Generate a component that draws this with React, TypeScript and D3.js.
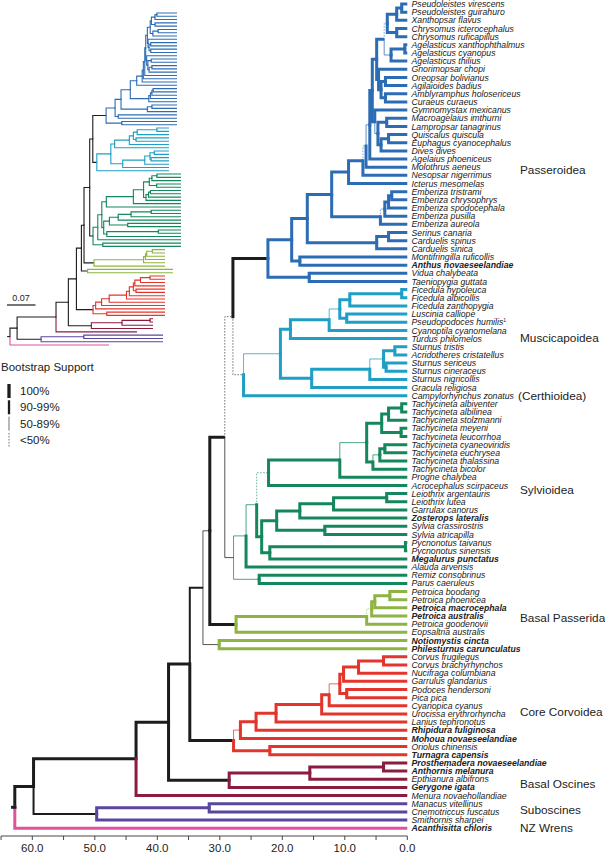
import React from 'react';
import * as d3 from 'd3';

const taxa: string[] = [
  'Pseudoleistes virescens','Pseudoleistes guirahuro','Xanthopsar flavus','Chrysomus icterocephalus','Chrysomus ruficapillus',
  'Agelasticus xanthophthalmus','Agelasticus cyanopus','Agelasticus thilius','Gnorimopsar chopi','Oreopsar bolivianus',
  'Agilaioides badius','Amblyramphus holosericeus','Curaeus curaeus','Gymnomystax mexicanus','Macroagelaius imthurni',
  'Lampropsar tanagrinus','Quiscalus quiscula','Euphagus cyanocephalus','Dives dives','Agelaius phoeniceus',
  'Molothrus aeneus','Nesopsar nigerrimus','Icterus mesomelas','Emberiza tristrami','Emberiza chrysophrys',
  'Emberiza spodocephala','Emberiza pusilla','Emberiza aureola','Serinus canaria','Carduelis spinus',
  'Carduelis sinica','Montifringilla ruficollis','Anthus novaeseelandiae','Vidua chalybeata','Taeniopygia guttata',
  'Ficedula hypoleuca','Ficedula albicollis','Ficedula zanthopygia','Luscinia calliope','Pseudopodoces humilis',
  'Cyanoptila cyanomelana','Turdus philomelos','Sturnus tristis','Acridotheres cristatellus','Sturnus sericeus',
  'Sturnus cineraceus','Sturnus nigricollis','Gracula religiosa','Campylorhynchus zonatus','Tachycineta albiventer',
  'Tachycineta albilinea','Tachycineta stolzmanni','Tachycineta meyeni','Tachycineta leucorrhoa','Tachycineta cyaneoviridis',
  'Tachycineta euchrysea','Tachycineta thalassina','Tachycineta bicolor','Progne chalybea','Acrocephalus scirpaceus',
  'Leiothrix argentauris','Leiothrix lutea','Garrulax canorus','Zosterops lateralis','Sylvia crassirostris',
  'Sylvia atricapilla','Pycnonotus taivanus','Pycnonotus sinensis','Megalurus punctatus','Alauda arvensis',
  'Remiz consobrinus','Parus caeruleus','Petroica boodang','Petroica phoenicea','Petroica macrocephala',
  'Petroica australis','Petroica goodenovii','Eopsaltria australis','Notiomystis cincta','Philesturnus carunculatus',
  'Corvus frugilegus','Corvus brachyrhynchos','Nucifraga columbiana','Garrulus glandarius','Podoces hendersoni',
  'Pica pica','Cyanopica cyanus','Urocissa erythrorhyncha','Lanius tephronotus','Rhipidura fuliginosa',
  'Mohoua novaeseelandiae','Oriolus chinensis','Turnagra capensis','Prosthemadera novaeseelandiae','Anthornis melanura',
  'Epthianura albifrons','Gerygone igata','Menura novaehollandiae','Manacus vitellinus','Cnemotriccus fuscatus',
  'Smithornis sharpei','Acanthisitta chloris'
];

const boldTaxa: string[] = [
  'Anthus novaeseelandiae','Zosterops lateralis','Megalurus punctatus','Petroica macrocephala','Petroica australis',
  'Notiomystis cincta','Philesturnus carunculatus','Rhipidura fuliginosa','Mohoua novaeseelandiae','Turnagra capensis',
  'Prosthemadera novaeseelandiae','Anthornis melanura','Gerygone igata','Acanthisitta chloris'
];

const footnoteTaxa: string[] = ['Pseudopodoces humilis'];

// internal nodes: [id, child, child, age (Ma), bootstrap class A=100 B=90-99 C=50-89 D=<50]
type Ref = number | string;
const nodes: [string, Ref, Ref, number, string][] = [
  ['p1', 0, 1, 0.9, 'A'], ['p2', 'p1', 2, 1.7, 'A'], ['p3', 3, 4, 1.7, 'A'], ['p4', 'p2', 'p3', 3.2, 'D'],
  ['a1', 5, 6, 0.4, 'A'], ['a2', 'a1', 7, 2.6, 'C'], ['p5', 'p4', 'a2', 3.7, 'A'],
  ['b1', 9, 10, 3.5, 'A'], ['b2', 11, 12, 3.5, 'A'], ['b3', 'b1', 'b2', 4.2, 'A'], ['b4', 8, 'b3', 4.6, 'A'],
  ['p6', 'p5', 'b4', 4.9, 'A'],
  ['g1', 14, 15, 3.3, 'A'], ['g2', 16, 17, 3.0, 'A'], ['g3', 'g2', 18, 4.2, 'A'], ['g4', 'g1', 'g3', 4.7, 'C'],
  ['g5', 13, 'g4', 5.2, 'A'], ['h1', 'p6', 'g5', 5.6, 'A'], ['i1', 'h1', 19, 6.0, 'C'], ['i2', 'i1', 20, 6.6, 'D'],
  ['i3', 'i2', 21, 7.1, 'A'], ['ict', 'i3', 22, 9.4, 'A'],
  ['e1', 23, 24, 2.5, 'A'], ['e2', 'e1', 25, 3.0, 'A'], ['e3', 'e2', 26, 3.6, 'D'], ['e4', 'e3', 27, 4.3, 'A'],
  ['c1', 'ict', 'e4', 12.1, 'A'], ['f1', 28, 29, 3.0, 'A'], ['f2', 'f1', 30, 4.9, 'A'], ['bb', 'c1', 'f2', 16.0, 'A'],
  ['ma', 31, 32, 17.2, 'A'], ['aa', 'bb', 'ma', 18.5, 'A'], ['vt', 33, 34, 15.7, 'A'], ['pas', 'aa', 'vt', 22.3, 'A'],
  ['m1', 35, 36, 0.9, 'A'], ['m2', 'm1', 37, 9.2, 'A'], ['m3', 38, 39, 9.7, 'A'], ['m4', 'm2', 'm3', 10.8, 'C'],
  ['m5', 'm4', 40, 12.5, 'A'], ['m6', 'm5', 41, 18.7, 'A'],
  ['s1', 42, 43, 2.0, 'A'], ['s2', 44, 45, 3.4, 'A'], ['s3', 's1', 's2', 3.8, 'C'], ['s4', 's3', 46, 6.0, 'A'],
  ['s5', 's4', 47, 15.3, 'A'], ['m7', 'm6', 's5', 20.3, 'C'], ['mus', 'm7', 48, 26.2, 'D'],
  ['pm', 'pas', 'mus', 27.9, 'D'],
  ['t1', 49, 50, 0.9, 'A'], ['t2', 't1', 51, 3.0, 'A'], ['t3', 52, 53, 1.0, 'A'], ['t4', 't2', 't3', 4.1, 'A'],
  ['t5', 54, 55, 3.6, 'A'], ['t6', 't5', 56, 4.4, 'C'], ['t7', 't6', 57, 5.5, 'A'], ['t8', 't4', 't7', 6.5, 'C'],
  ['t9', 't8', 58, 10.8, 'A'], ['t10', 't9', 59, 22.2, 'D'],
  ['l1', 60, 61, 3.3, 'A'], ['l2', 'l1', 62, 11.8, 'A'], ['l3', 'l2', 63, 17.2, 'A'], ['sy1', 64, 65, 13.2, 'A'],
  ['l4', 'l3', 'sy1', 20.9, 'A'], ['py', 66, 67, 0.3, 'A'], ['l5', 'py', 68, 22.0, 'A'], ['l6', 'l4', 'l5', 23.3, 'A'],
  ['l7', 't10', 'l6', 24.1, 'C'], ['l8', 'l7', 69, 25.8, 'C'], ['rp', 70, 71, 23.7, 'C'], ['syl', 'l8', 'rp', 27.8, 'C'],
  ['pd', 'pm', 'syl', 29.2, 'A'],
  ['r1', 72, 73, 2.8, 'A'], ['r2', 'r1', 74, 5.2, 'A'], ['r3', 'r2', 75, 5.7, 'D'], ['r4', 'r3', 76, 6.5, 'A'],
  ['pet', 'r4', 77, 27.4, 'A'], ['pe', 'pd', 'pet', 31.6, 'C'], ['np', 78, 79, 30.1, 'C'], ['pn', 'pe', 'np', 32.7, 'B'],
  ['k1', 80, 81, 3.8, 'A'], ['k2', 'k1', 82, 7.8, 'A'], ['k3', 'k2', 83, 10.2, 'A'], ['k4', 84, 85, 9.7, 'A'],
  ['k5', 'k3', 'k4', 10.8, 'C'], ['k6', 'k5', 86, 12.5, 'A'], ['k7', 'k6', 87, 13.7, 'A'], ['k8', 'k7', 88, 21.0, 'A'],
  ['k9', 'k8', 89, 24.2, 'A'], ['k10', 'k9', 90, 26.7, 'C'], ['k11', 91, 92, 22.0, 'A'], ['cor', 'k10', 'k11', 27.8, 'A'],
  ['pc', 'pn', 'cor', 34.8, 'A'],
  ['h1m', 93, 94, 3.8, 'A'], ['h2m', 'h1m', 95, 15.6, 'A'], ['mel', 'h2m', 96, 28.5, 'A'],
  ['os', 'pc', 'mel', 38.2, 'A'], ['os2', 'os', 97, 43.4, 'A'],
  ['su1', 98, 99, 31.7, 'A'], ['sub', 'su1', 100, 49.7, 'B'], ['pa', 'os2', 'sub', 59.8, 'A'],
  ['root', 'pa', 101, 62.8, 'A']
];
const rootStemAge = 63.4;

// colour groups: crown node -> colour of everything below it
const crownColors: [string, string][] = [
  ['pas', '#2c6cb4'], ['mus', '#1f9fc6'], ['syl', '#14885c'], ['pet', '#8db443'], ['np', '#8db443'],
  ['cor', '#e3352b'], ['mel', '#8c1b40'], ['sub', '#5a479d']
];
const leafColors: [number, string, string][] = [[97, '#8c1b40', 'men'], [101, '#e0529c', 'nz']];

// inset phylogram: tip extension per colour group (px)
const insetTipExtra: [string, number][] = [
  ['pas', 18], ['mus', 10], ['syl', 22], ['pet', 6], ['np', 14], ['cor', 6], ['mel', -6], ['men', -22], ['sub', 4], ['nz', -50]
];

const cladeLabels: string[] = ['Passeroidea', 'Muscicapoidea', '(Certhioidea)', 'Sylvioidea', 'Basal Passerida', 'Core Corvoidea', 'Basal Oscines', 'Suboscines', 'NZ Wrens'];
const cladeLabelLeaf: number[] = [20.3, 40.9, 48, 59.5, 75.2, 86.7, 95.5, 98.7, 101];
const cladeLabelX: number[] = [520, 520, 518, 520, 520, 520, 520, 520, 520];

const ageTicks: number[] = [65, 60, 55, 50, 45, 40, 35, 30, 25, 20, 15, 10, 5, 0];
const ageLabels: number[] = [60, 50, 40, 30, 20, 10, 0];
const supportLevels: string[] = ['100%', '90-99%', '50-89%', '<50%'];
const supportClasses: string[] = ['A', 'B', 'C', 'D'];
const scaleBarLabel = '0.07';

const FONT = '"Liberation Sans", Arial, Helvetica, sans-serif';

const widthOf: Record<string, number> = { A: 3, B: 2, C: 1, D: 1 };

type Seg = { px: number; py: number; cx: number; cy: number; color: string; sup: string; group: string; leaf: boolean };

export default function App() {
  const x = d3.scaleLinear().domain([60, 0]).range([32.3, 407.3]);
  const y = d3.scaleLinear().domain([0, 101]).range([4, 828.2]);
  const xi = d3.scaleLinear().domain([63, 0]).range([9.5, 159]);
  const yi = d3.scaleLinear().domain([0, 101]).range([13, 345]);

  const nodeMap = new Map<string, { children: Ref[]; age: number; sup: string }>();
  nodes.forEach(([id, a, b, age, s]) => nodeMap.set(id, { children: [a, b], age, sup: s }));
  const crownMap = new Map(crownColors);
  const leafColorMap = new Map(leafColors.map(([i, c, g]) => [i, { c, g }]));
  const tipExtra = new Map(insetTipExtra);

  const posCache = new Map<Ref, number>();
  const pos = (r: Ref): number => {
    if (typeof r === 'number') return r;
    if (posCache.has(r)) return posCache.get(r)!;
    const n = nodeMap.get(r)!;
    const v = (pos(n.children[0]) + pos(n.children[1])) / 2;
    posCache.set(r, v);
    return v;
  };

  const segs: Seg[] = [];
  const walk = (r: Ref, parentAge: number | null, parentPos: number, color: string, group: string) => {
    const leaf = typeof r === 'number';
    let c = color;
    let g = group;
    if (leaf && leafColorMap.has(r as number)) {
      c = leafColorMap.get(r as number)!.c;
      g = leafColorMap.get(r as number)!.g;
    }
    const age = leaf ? 0 : nodeMap.get(r as string)!.age;
    const sup = leaf ? 'A' : nodeMap.get(r as string)!.sup;
    if (parentAge !== null) {
      segs.push({ px: parentAge, py: parentPos, cx: age, cy: pos(r), color: c, sup, group: g, leaf });
    }
    if (!leaf) {
      const cc = crownMap.get(r as string) ?? color;
      const cg = crownMap.has(r as string) ? (r as string) : group;
      nodeMap.get(r as string)!.children.forEach((ch) => walk(ch, age, pos(r), cc, cg));
    }
  };
  walk('root', null, 0, '#1c1c1c', 'bb');

  const rootPos = pos('root');

  const branchPath = (s: Seg) => {
    const px = x(s.px), py = y(s.py), cx = x(s.cx), cy = y(s.cy);
    const w = widthOf[s.sup];
    const dir = cy > py ? 1 : -1;
    return `M${px},${py - dir * w / 2}V${cy}H${cx}`;
  };

  const insetPath = (s: Seg) => {
    const px = xi(s.px), py = yi(s.py), cy = yi(s.cy);
    const cx = s.leaf ? xi(0) + (tipExtra.get(s.group) ?? 0) : xi(s.cx);
    const dir = cy > py ? 1 : -1;
    return `M${px},${py - dir * 0.6}V${cy}H${cx}`;
  };

  const strokeFor = (s: Seg) => {
    if (s.sup === 'C') return { stroke: s.color, strokeOpacity: 0.75 };
    if (s.sup === 'D') return { stroke: s.color, strokeOpacity: 0.6, strokeDasharray: '1.6,1.4' };
    return { stroke: s.color };
  };

  const axisY = 836;

  return (
    <svg width={605} height={853} style={{ position: 'absolute', left: 0, top: 0, background: '#fff' }} fontFamily={FONT}>
      {/* inset phylogram */}
      <g fill="none" strokeWidth={1.1}>
        {segs.map((s, i) => (
          <path key={'in' + i} d={insetPath(s)} stroke={s.color} />
        ))}
        <path d={`M${xi(rootStemAge + 0.6)},${yi(rootPos)}H${xi(62.8)}`} stroke="#1c1c1c" />
      </g>
      <line x1={7} x2={35.5} y1={305} y2={305} stroke="#1c1c1c" strokeWidth={1.2} />
      <text x={21} y={301} fontSize={9} textAnchor="middle" fill="#222">{scaleBarLabel}</text>

      {/* legend */}
      <text x={1} y={371} fontSize={11.5} fill="#222">Bootstrap Support</text>
      {supportLevels.map((lab, i) => {
        const cy = 391 + i * 16.3;
        const sc = supportClasses[i];
        return (
          <g key={lab}>
            <line x1={9} x2={9} y1={cy - 7} y2={cy + 7} stroke="#1c1c1c" strokeWidth={widthOf[sc] === 1 ? 0.9 : widthOf[sc] + 0.3}
              strokeOpacity={sc === 'C' ? 0.7 : sc === 'D' ? 0.7 : 1} strokeDasharray={sc === 'D' ? '1.6,1.4' : undefined} />
            <text x={20} y={cy + 4} fontSize={11.5} fill="#222">{lab}</text>
          </g>
        );
      })}

      {/* main chronogram */}
      <g fill="none" strokeLinejoin="miter">
        {segs.map((s, i) => (
          <path key={'b' + i} d={branchPath(s)} strokeWidth={widthOf[s.sup]} {...strokeFor(s)} />
        ))}
        <path d={`M${x(rootStemAge)},${y(rootPos)}H${x(62.8) + 1.5}`} stroke="#1c1c1c" strokeWidth={3} />
      </g>

      {/* taxon labels */}
      <g fontSize={8.7} fontStyle="italic" fill="#222">
        {taxa.map((t, i) => (
          <text key={t} x={411.5} y={y(i) + 3.1} fontWeight={boldTaxa.includes(t) ? 'bold' : 'normal'}>
            {t}
            {footnoteTaxa.includes(t) ? <tspan fontSize={5} fontStyle="normal" dy={-3.2}>1</tspan> : null}
          </text>
        ))}
      </g>

      {/* clade labels */}
      <g fontSize={11.8} fill="#222">
        {cladeLabels.map((c, i) => (
          <text key={c} x={cladeLabelX[i]} y={y(cladeLabelLeaf[i]) + 4.2}>{c}</text>
        ))}
      </g>

      {/* time axis */}
      <g stroke="#333" strokeWidth={0.9}>
        <line x1={x(65)} x2={x(0)} y1={axisY} y2={axisY} />
        {ageTicks.map((t) => (
          <line key={'t' + t} x1={x(t)} x2={x(t)} y1={axisY} y2={axisY + 4} />
        ))}
      </g>
      <g fontSize={11.5} fill="#222" textAnchor="middle">
        {ageLabels.map((t) => (
          <text key={'l' + t} x={x(t)} y={852}>{d3.format('.1f')(t)}</text>
        ))}
      </g>
    </svg>
  );
}
